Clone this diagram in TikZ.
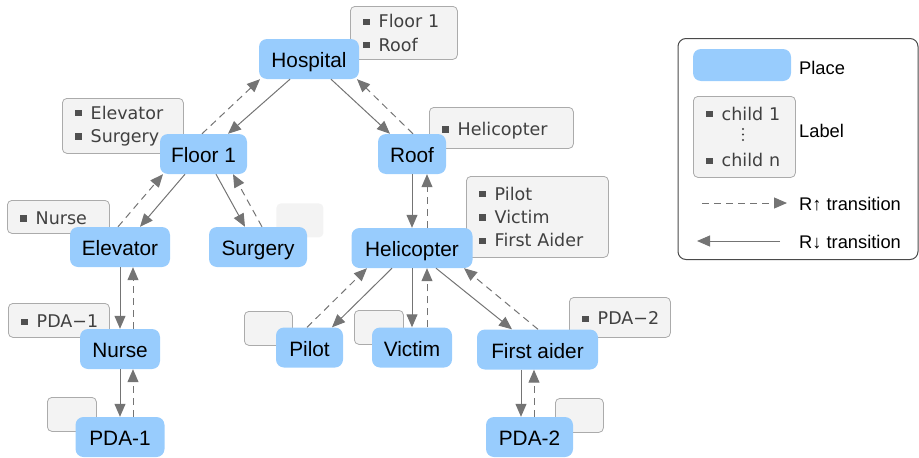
\documentclass[tikz,border=0pt]{standalone}
\usepackage{fontspec}
\setmainfont{Liberation Sans}
\newfontfamily\lblfamily{DejaVu Sans}
\usetikzlibrary{arrows.meta}
\definecolor{placeblue}{HTML}{98CCFD}
\definecolor{lblfill}{HTML}{F3F3F3}
\definecolor{lblborder}{HTML}{ABABAB}
\definecolor{lbltext}{HTML}{404040}
\definecolor{bulc}{HTML}{505050}
\definecolor{edgec}{HTML}{747474}
\definecolor{legc}{HTML}{4A4A4A}
\newcommand\bul{{\color{bulc}\rule[2.7pt]{6.3pt}{6.3pt}}\hspace{9pt}}
\begin{document}
\begin{tikzpicture}[x=1pt,y=-1pt,
  place/.style={fill=placeblue, rounded corners=8pt, minimum height=40pt, inner sep=0pt,
    text height=17pt, text depth=0pt, font=\fontsize{20.8}{24}\selectfont},
  lbl/.style={draw=lblborder, fill=lblfill, line width=0.8pt, rounded corners=4.5pt,
    anchor=north west, align=left, text=lbltext, inner xsep=13pt, inner ysep=0pt,
    font=\lblfamily\fontsize{17.5}{23.3}\selectfont},
  onelbl/.style={lbl, text height=15pt, text depth=0pt},
  rdn/.style={draw=edgec, line width=1pt, -{Triangle[length=13pt,width=11pt]}},
  rup/.style={rdn, dash pattern=on 7pt off 5pt},
  legtext/.style={anchor=base west, inner sep=0pt, font=\fontsize{18.3}{22}\selectfont}
]
\useasboundingbox (0,0) rectangle (919,458);

% label boxes
\node[lbl, text width=81pt, minimum height=53pt] (lhosp) at (350,6) {\bul Floor 1\\\bul Roof};
\node[lbl, text width=95pt, minimum height=55pt] (lfloor) at (62,98) {\bul Elevator\\\bul Surgery};
\node[onelbl, text width=76pt, minimum height=33pt] (lelev) at (7,200) {\bul Nurse};
\node[onelbl, text width=75pt, minimum height=34pt] (lnurse) at (8,303) {\rlap{\bul PDA−1}};
\node[lbl, minimum width=49pt, minimum height=34pt] (lpda1) at (47,397) {};
\node[lbl, draw=none, minimum width=47pt, minimum height=34pt] (lsurg) at (276,203) {};
\node[onelbl, text width=118pt, minimum height=41pt] (lroof) at (429,107) {\bul Helicopter};
\node[lbl, text width=116pt, minimum height=81pt] (lheli) at (466,176) {\bul Pilot\\\bul Victim\\\bul First Aider};
\node[lbl, minimum width=48pt, minimum height=34pt] (lpilot) at (244,311) {};
\node[lbl, minimum width=49pt, minimum height=34pt] (lvictim) at (354,310) {};
\node[onelbl, text width=75pt, minimum height=40pt] (lfa) at (569,297) {\rlap{\bul PDA−2}};
\node[lbl, minimum width=48pt, minimum height=34pt] (lpda2) at (555,398) {};

% places
\node[place, minimum width=100pt] (hosp) at (309,59) {Hospital};
\node[place, minimum width=87pt] (floor) at (203.5,154) {Floor 1};
\node[place, minimum width=68pt] (roof) at (412,154) {Roof};
\node[place, minimum width=100pt] (elev) at (120,247) {Elevator};
\node[place, minimum width=98pt] (surg) at (258,247) {Surgery};
\node[place, minimum width=80pt] (nurse) at (120,349) {Nurse};
\node[place, minimum width=89pt] (pda1) at (120,437) {PDA-1};
\node[place, minimum width=121pt] (heli) at (412,248) {Helicopter};
\node[place, minimum width=67pt] (pilot) at (309.5,347.5) {Pilot};
\node[place, minimum width=80pt] (victim) at (412,347.5) {Victim};
\node[place, minimum width=121pt] (fa) at (537.5,349.5) {First aider};
\node[place, minimum width=87pt] (pda2) at (529.5,437) {PDA-2};

% transitions
\draw[rdn] ([xshift=-19pt]hosp.south) -- ([xshift=24.5pt]floor.north);
\draw[rup] ([xshift=-1.5pt]floor.north) -- ([xshift=-49pt]hosp.south);
\draw[rdn] ([xshift=22pt]hosp.south) -- ([xshift=-22pt]roof.north);
\draw[rup] ([xshift=1pt]roof.north) -- ([xshift=48pt]hosp.south);
\draw[rdn] ([xshift=-18.5pt]floor.south) -- ([xshift=20pt]elev.north);
\draw[rup] ([xshift=-2pt]elev.north) -- ([xshift=-40.5pt]floor.south);
\draw[rdn] ([xshift=12.5pt]floor.south) -- ([xshift=-13pt]surg.north);
\draw[rup] ([xshift=4pt]surg.north) -- ([xshift=29.5pt]floor.south);
\draw[rdn] (elev.south) -- (nurse.north);
\draw[rup] ([xshift=13pt]nurse.north) -- ([xshift=13pt]elev.south);
\draw[rdn] (nurse.south) -- (pda1.north);
\draw[rup] ([xshift=13pt]pda1.north) -- ([xshift=13pt]nurse.south);
\draw[rdn] (roof.south) -- (heli.north);
\draw[rup] ([xshift=15pt]heli.north) -- ([xshift=15pt]roof.south);
\draw[rdn] ([xshift=-20pt]heli.south) -- ([xshift=22.5pt]pilot.north);
\draw[rup] ([xshift=-2.5pt]pilot.north) -- ([xshift=-45pt]heli.south);
\draw[rdn] (heli.south) -- (victim.north);
\draw[rup] ([xshift=15pt]victim.north) -- ([xshift=15pt]heli.south);
\draw[rdn] ([xshift=24pt]heli.south) -- ([xshift=-25.5pt]fa.north);
\draw[rup] ([xshift=0.5pt]fa.north) -- ([xshift=52pt]heli.south);
\draw[rdn] ([xshift=-16.5pt]fa.south) -- ([xshift=-8.5pt]pda2.north);
\draw[rup] ([xshift=4.5pt]pda2.north) -- ([xshift=-3.5pt]fa.south);

% legend
\node[draw=legc, line width=1pt, rounded corners=8pt, minimum width=240pt, minimum height=221pt,
  inner sep=0pt, anchor=north west] (legend) at (677.5,38) {};
\node[fill=placeblue, rounded corners=8pt, minimum width=98pt, minimum height=32pt, inner sep=0pt] (lgplace) at (742,65) {};
\node[legtext] (tplace) at (799,74) {Place};
\node[lbl, text width=76pt, minimum height=81pt] (lglabel) at (693,96) {\bul child 1\\[23.3pt]\bul child n};
\fill[lbltext] (743,129) circle (1.2);
\fill[lbltext] (743,134.5) circle (1.2);
\fill[lbltext] (743,140) circle (1.2);
\node[legtext] (tlabel) at (799,137) {Label};
\coordinate (ua) at (702,203);
\coordinate (ub) at (787,203);
\draw[rup] (ua) -- (ub);
\node[legtext] (tup) at (799,210) {R↑ transition};
\coordinate (da) at (780,241);
\coordinate (db) at (697,241);
\draw[rdn] (da) -- (db);
\node[legtext] (tdn) at (799,248) {R↓ transition};
\end{tikzpicture}
\end{document}
